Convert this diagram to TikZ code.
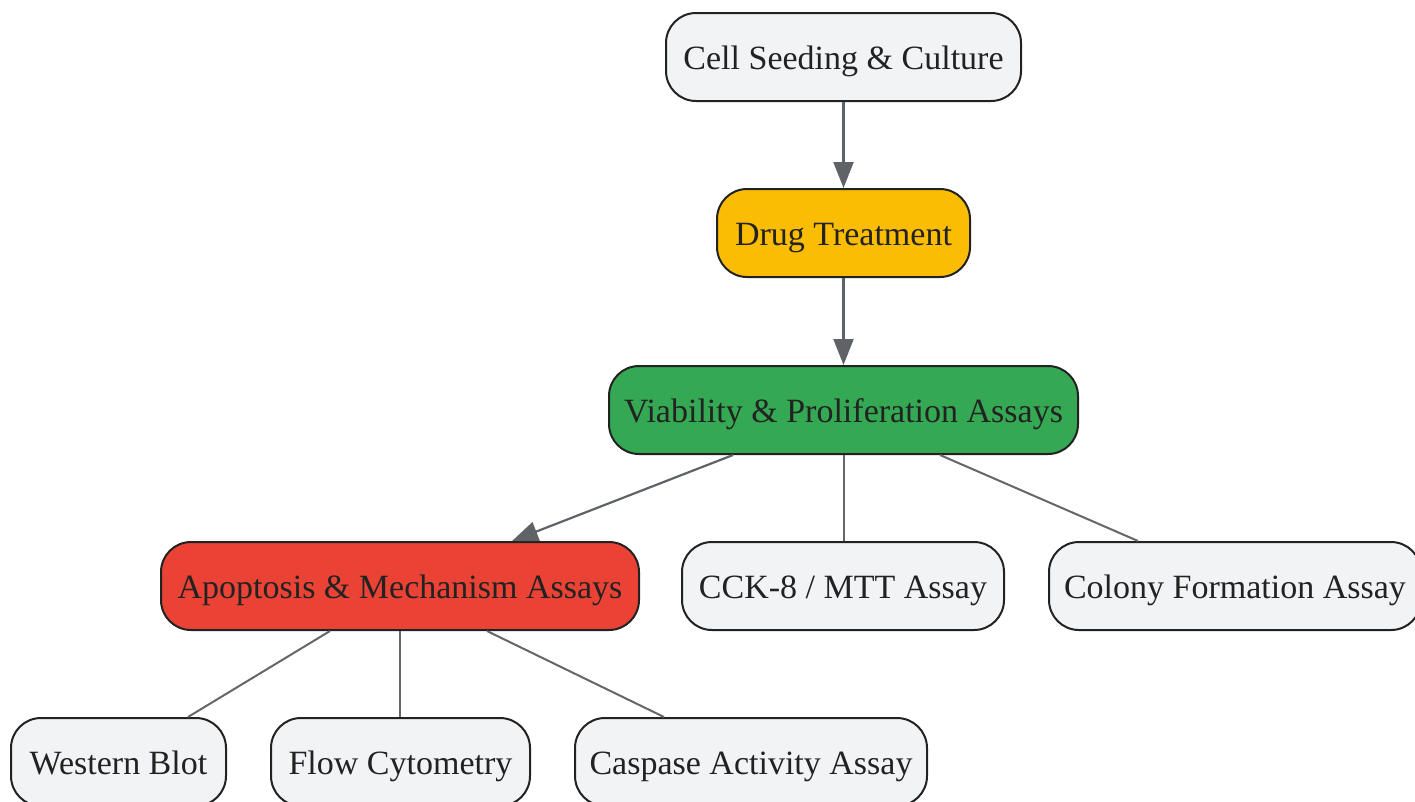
\documentclass[tikz,border=0pt]{standalone}
\usepackage{fontspec}
\setmainfont{Liberation Serif}
\usetikzlibrary{arrows.meta}
\definecolor{nodegray}{HTML}{F1F3F4}
\definecolor{gyellow}{HTML}{FBBC04}
\definecolor{ggreen}{HTML}{34A853}
\definecolor{gred}{HTML}{EA4335}
\definecolor{bordercol}{HTML}{222222}
\definecolor{arrowcol}{HTML}{5F6368}
\definecolor{linecol}{HTML}{666666}
\definecolor{textcol}{HTML}{222222}
\tikzset{
  box/.style={draw=bordercol, line width=2pt, rounded corners=30pt, minimum height=88pt,
    inner xsep=0pt, inner ysep=0pt, text height=31.5pt, text depth=7pt, text=textcol,
    font=\fontsize{34}{40}\selectfont, fill=nodegray},
  flow/.style={draw=arrowcol, line width=2.2pt, -{Triangle[length=26pt,width=20pt]}},
  link/.style={draw=linecol, line width=2pt},
}
\begin{document}
\begin{tikzpicture}[x=1pt,y=-1pt]
\useasboundingbox (0,0) rectangle (1415,801);
\node[box, minimum width=355pt] (cell) at (843.5,57) {Cell Seeding \& Culture};
\node[box, minimum width=253pt, fill=gyellow] (drug) at (843.5,233) {Drug Treatment};
\node[box, minimum width=469pt, fill=ggreen] (via) at (843.5,410) {Viability \& Proliferation Assays};
\node[box, minimum width=478pt, fill=gred] (apo) at (400,586) {Apoptosis \& Mechanism Assays};
\node[box, minimum width=322pt] (cck) at (843,586) {CCK-8 / MTT Assay};
\node[box, minimum width=372pt] (col) at (1235,586) {Colony Formation Assay};
\node[box, minimum width=215pt] (wb) at (118.5,762) {Western Blot};
\node[box, minimum width=259pt] (fc) at (400.5,762) {Flow Cytometry};
\node[box, minimum width=352pt] (cas) at (751,762) {Caspase Activity Assay};

\draw[flow] (cell.south) -- (drug.north);
\draw[flow] (drug.south) -- (via.north);
\draw[flow] ([xshift=-110.5pt]via.south) -- ([xshift=112pt]apo.north);
\draw[link] (via.south) -- (via.south |- cck.north);
\draw[link] ([xshift=96.5pt]via.south) -- ([xshift=-97pt]col.north);
\draw[link] ([xshift=-70pt]apo.south) -- ([xshift=69.5pt]wb.north);
\draw[link] (apo.south) -- (apo.south |- fc.north);
\draw[link] ([xshift=87pt]apo.south) -- ([xshift=-87pt]cas.north);
\end{tikzpicture}
\end{document}
